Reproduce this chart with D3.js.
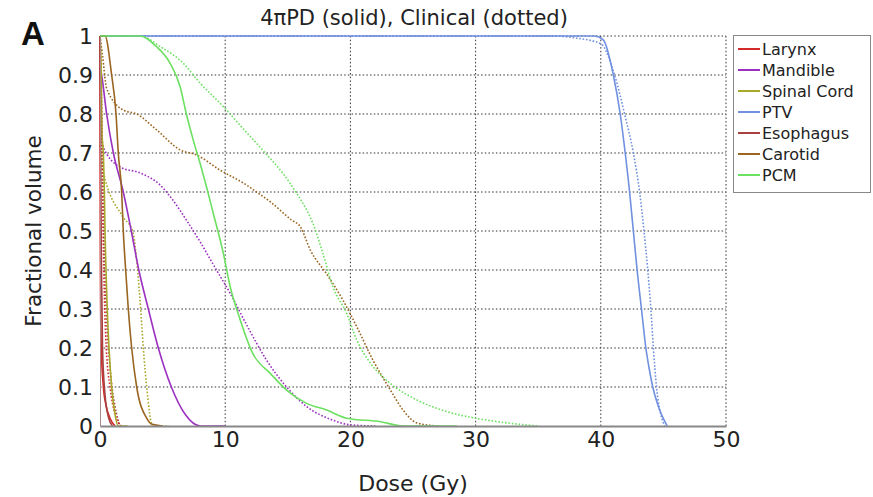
<!DOCTYPE html>
<html>
<head>
<meta charset="utf-8">
<script src="https://cdn.jsdelivr.net/npm/d3@7"></script>
<style>
  html, body { margin: 0; padding: 0; background: #fff; }
  svg { display: block; font-family: "DejaVu Sans", sans-serif; }
</style>
</head>
<body>
<svg id="chart" width="873" height="497"></svg>
<script>
// ---- Data (dose in Gy, fractional volume) ----
const seriesNames = ["Larynx", "Mandible", "Spinal Cord", "PTV", "Esophagus", "Carotid", "PCM"];
const seriesColors = ["#d42a2a", "#9b30c0", "#a8a82a", "#7090e0", "#a84040", "#9a6520", "#6ce060"];

const xTicks = [0, 10, 20, 30, 40, 50];
const yTicks = [0, 0.1, 0.2, 0.3, 0.4, 0.5, 0.6, 0.7, 0.8, 0.9, 1];
const yTickLabels = ["0", "0.1", "0.2", "0.3", "0.4", "0.5", "0.6", "0.7", "0.8", "0.9", "1"];

// 4πPD (solid)
const larynxSolid = [[0,1],[0.02,0.5],[0.05,0.3],[0.1,0.2],[0.27,0.1],[0.5,0.05],[0.8,0.02],[1.2,0]];
const mandibleSolid = [[0,0.92],[0.13,0.9],[0.53,0.8],[1.07,0.7],[1.86,0.6],[2.5,0.5],[3.1,0.4],[3.86,0.3],[4.66,0.2],[5.7,0.1],[6.8,0.03],[8.0,0],[10,0]];
const spinalSolid = [[0,1],[0.1,0.9],[0.15,0.75],[0.27,0.7],[0.35,0.6],[0.4,0.5],[0.48,0.4],[0.58,0.3],[0.72,0.2],[0.93,0.1],[1.2,0.03],[1.45,0],[2.2,0]];
const ptvSolid = [[0,1],[39.5,1],[40.2,0.99],[41.0,0.9],[41.55,0.8],[41.95,0.7],[42.3,0.6],[42.6,0.5],[42.9,0.4],[43.25,0.3],[43.6,0.2],[43.85,0.15],[44.15,0.1],[44.6,0.05],[45.3,0]];
const esophagusSolid = [[0,1],[0.05,0.7],[0.1,0.45],[0.2,0.2],[0.4,0.08],[0.7,0.02],[1.0,0]];
const carotidSolid = [[0,1],[0.4,1],[0.93,0.9],[1.28,0.8],[1.46,0.7],[1.73,0.6],[1.86,0.5],[2.05,0.4],[2.26,0.3],[2.53,0.2],[2.93,0.1],[3.73,0.02],[4.1,0.005],[5.0,0]];
const pcmSolid = [[0,1],[3.2,1],[4.5,0.973],[5.6,0.93],[6.4,0.87],[6.9,0.8],[7.45,0.733],[8.0,0.673],[8.5,0.614],[9.05,0.545],[9.85,0.443],[10.4,0.357],[11.2,0.272],[12.2,0.186],[13.6,0.135],[14.9,0.092],[16.5,0.058],[18.1,0.041],[19.7,0.02],[22.4,0.011],[24.2,0],[28.5,0]];

// Clinical (dotted)
const larynxDotted = [[0,1],[0.1,0.8],[0.3,0.4],[0.5,0.2],[0.8,0.1],[1.2,0.03],[1.7,0]];
const mandibleDotted = [[0,0.92],[0.1,0.8],[0.2,0.72],[1.6,0.664],[3.2,0.649],[4.8,0.618],[5.8,0.58],[6.9,0.528],[8.0,0.472],[9.3,0.4],[10.4,0.34],[11.7,0.26],[13.3,0.169],[14.9,0.1],[16.5,0.05],[18.6,0.015],[20,0.003],[22,0]];
const spinalDotted = [[0,0.72],[0.24,0.655],[1.84,0.536],[2.6,0.5],[3.0,0.4],[3.25,0.3],[3.46,0.2],[3.73,0.1],[4.2,0],[5.5,0]];
const ptvDotted = [[0,1],[36,1],[38,0.995],[40,0.98],[41.1,0.9],[41.9,0.8],[42.6,0.7],[43.1,0.6],[43.45,0.5],[43.75,0.4],[44.0,0.3],[44.2,0.2],[44.45,0.1],[45.1,0]];
const esophagusDotted = [[0,1],[0.15,0.8],[0.3,0.5],[0.5,0.3],[0.8,0.15],[1.2,0.05],[1.6,0]];
const carotidDotted = [[0,1],[0.2,0.95],[0.53,0.866],[1.86,0.81],[2.93,0.80],[4.5,0.76],[6.4,0.708],[7.7,0.695],[9.6,0.656],[11.7,0.618],[12.5,0.60],[13.6,0.575],[15.3,0.528],[16.0,0.511],[16.8,0.451],[18.1,0.39],[19.4,0.323],[20.5,0.255],[21.8,0.169],[23.2,0.092],[24.2,0.041],[25.3,0.008],[27,0]];
const pcmDotted = [[0,1],[3.2,1],[4.8,0.973],[6.65,0.93],[8.0,0.879],[9.85,0.819],[11.3,0.767],[13.2,0.70],[14.6,0.648],[15.7,0.597],[16.5,0.554],[17.0,0.52],[17.8,0.443],[18.6,0.357],[19.7,0.289],[20.5,0.221],[21.6,0.161],[23.2,0.109],[25.3,0.067],[27.7,0.037],[30,0.02],[32,0.01],[35,0]];

const solidData = [larynxSolid, mandibleSolid, spinalSolid, ptvSolid, esophagusSolid, carotidSolid, pcmSolid];
const dottedData = [larynxDotted, mandibleDotted, spinalDotted, ptvDotted, esophagusDotted, carotidDotted, pcmDotted];

// ---- Layout ----
const svg = d3.select("#chart");
const m = { left: 100, right: 147, top: 36, bottom: 71 };
const W = 873, H = 497;
const x = d3.scaleLinear().domain([0, 50]).range([m.left, W - m.right]);
const y = d3.scaleLinear().domain([0, 1]).range([H - m.bottom, m.top]);

// Grid
const grid = svg.append("g");
grid.selectAll("line.gx").data(xTicks.filter(d => d > 0)).join("line")
  .attr("x1", d => x(d)).attr("x2", d => x(d))
  .attr("y1", y(0)).attr("y2", y(1))
  .attr("stroke", "#333").attr("stroke-width", 1).attr("stroke-dasharray", "1.5,2.2");
grid.selectAll("line.gy").data(yTicks.filter(d => d > 0)).join("line")
  .attr("x1", x(0)).attr("x2", x(50))
  .attr("y1", d => y(d)).attr("y2", d => y(d))
  .attr("stroke", "#333").attr("stroke-width", 1).attr("stroke-dasharray", "1.5,2.2");

// Axes
const xAxis = d3.axisBottom(x).tickValues(xTicks).tickSize(0).tickPadding(5);
const yAxis = d3.axisLeft(y).tickValues(yTicks).tickSize(0).tickPadding(7)
  .tickFormat((d, i) => yTickLabels[i]);

const line = d3.line().x(d => x(d[0])).y(d => y(d[1])).curve(d3.curveMonotoneX);

// Curves: dotted first, then solid
const curves = svg.append("g").attr("fill", "none");
dottedData.forEach((data, i) => {
  curves.append("path").datum(data).attr("d", line)
    .attr("stroke", seriesColors[i]).attr("stroke-width", 1.6)
    .attr("stroke-dasharray", "1.6,1.8");
});
solidData.forEach((data, i) => {
  curves.append("path").datum(data).attr("d", line)
    .attr("stroke", seriesColors[i]).attr("stroke-width", 1.6);
});

const gx = svg.append("g").attr("transform", `translate(0,${y(0)})`).call(xAxis);
gx.select(".domain").attr("stroke", "#888").attr("stroke-width", 2);
gx.selectAll("text").attr("font-size", 22).attr("fill", "#222")
  .attr("font-family", "'DejaVu Sans', sans-serif");

const gy = svg.append("g").attr("transform", `translate(${x(0)},0)`).call(yAxis);
gy.select(".domain").attr("stroke", "#a88").attr("stroke-width", 1);
gy.selectAll("text").attr("font-size", 22).attr("fill", "#222")
  .attr("font-family", "'DejaVu Sans', sans-serif");

// Titles
svg.append("text").attr("x", 414).attr("y", 25)
  .attr("text-anchor", "middle").attr("font-size", 21).attr("fill", "#222")
  .text("4πPD (solid), Clinical (dotted)");
svg.append("text").attr("x", 21).attr("y", 45)
  .attr("font-size", 33).attr("font-weight", "bold").attr("fill", "#111")
  .attr("font-family", "'Liberation Sans', Arial, sans-serif")
  .text("A");
svg.append("text").attr("x", 413).attr("y", 491)
  .attr("text-anchor", "middle").attr("font-size", 22).attr("fill", "#222")
  .text("Dose (Gy)");
svg.append("text")
  .attr("transform", `translate(41,${(y(0) + y(1)) / 2}) rotate(-90)`)
  .attr("text-anchor", "middle").attr("font-size", 21.5).attr("fill", "#222")
  .text("Fractional volume");

// Legend
const lg = svg.append("g");
lg.append("rect").attr("x", 733.5).attr("y", 35.5).attr("width", 137).attr("height", 157)
  .attr("fill", "#fff").attr("stroke", "#888").attr("stroke-width", 1);
seriesNames.forEach((name, i) => {
  const ly = 49 + i * 21;
  lg.append("line").attr("x1", 738).attr("x2", 760).attr("y1", ly).attr("y2", ly)
    .attr("stroke", seriesColors[i]).attr("stroke-width", 2);
  lg.append("text").attr("x", 762).attr("y", ly).attr("dy", "0.35em")
    .attr("font-size", 16).attr("fill", "#222").text(name);
});
</script>
</body>
</html>
